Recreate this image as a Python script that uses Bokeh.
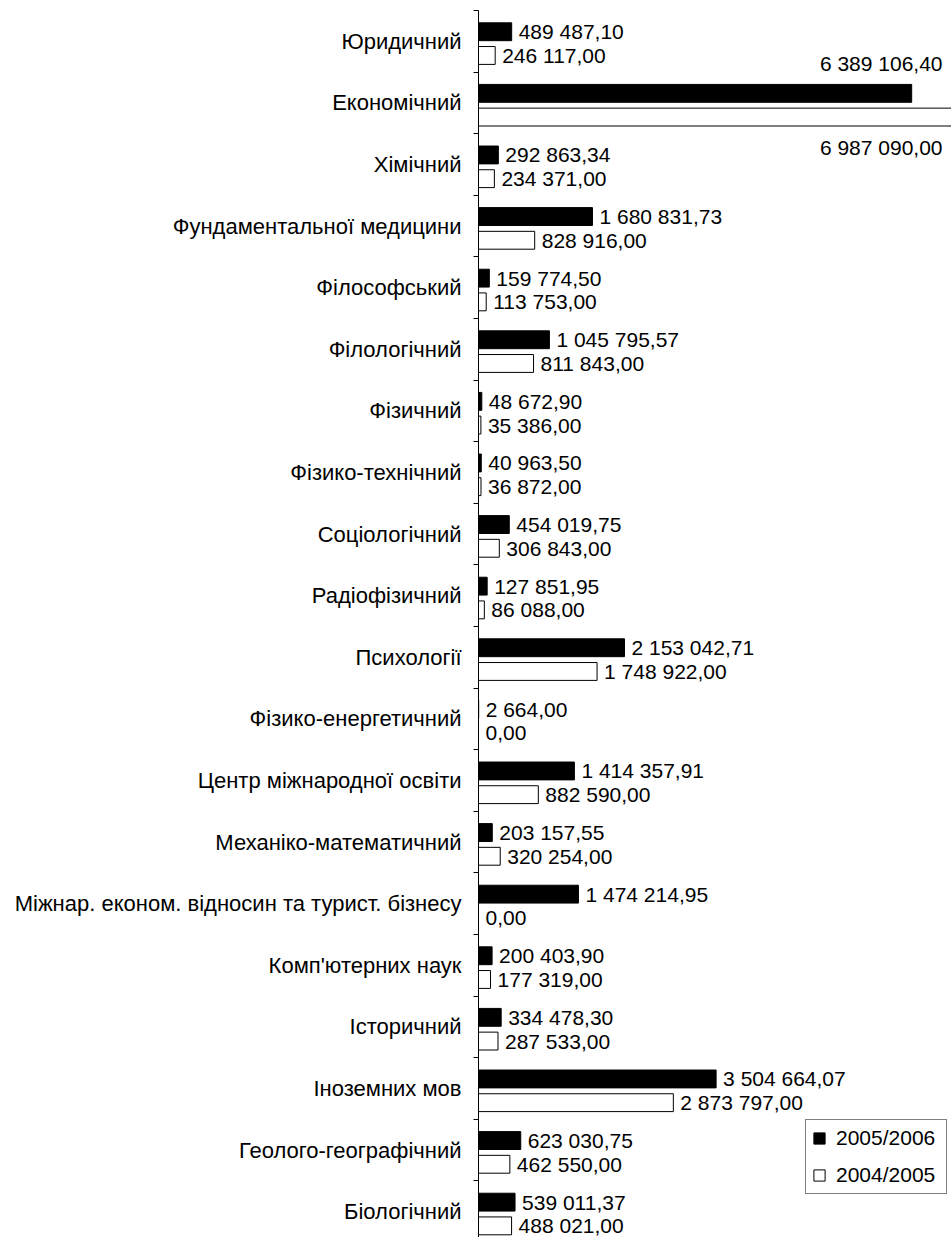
from bokeh.plotting import figure
from bokeh.models import Range1d, FixedTicker, ColumnDataSource, Legend, LegendItem
from bokeh.core.properties import value
from bokeh.embed import file_html
from bokeh.resources import INLINE

categories = [
    "Юридичний",
    "Економічний",
    "Хімічний",
    "Фундаментальної медицини",
    "Філософський",
    "Філологічний",
    "Фізичний",
    "Фізико-технічний",
    "Соціологічний",
    "Радіофізичний",
    "Психології",
    "Фізико-енергетичний",
    "Центр міжнародної освіти",
    "Механіко-математичний",
    "Міжнар. економ. відносин та турист. бізнесу",
    "Комп'ютерних наук",
    "Історичний",
    "Іноземних мов",
    "Геолого-географічний",
    "Біологічний",
]
values_2005_2006 = [
    489487.10, 6389106.40, 292863.34, 1680831.73, 159774.50, 1045795.57,
    48672.90, 40963.50, 454019.75, 127851.95, 2153042.71, 2664.00,
    1414357.91, 203157.55, 1474214.95, 200403.90, 334478.30, 3504664.07,
    623030.75, 539011.37,
]
values_2004_2005 = [
    246117.00, 6987090.00, 234371.00, 828916.00, 113753.00, 811843.00,
    35386.00, 36872.00, 306843.00, 86088.00, 1748922.00, 0.00,
    882590.00, 320254.00, 0.00, 177319.00, 287533.00, 2873797.00,
    462550.00, 488021.00,
]
series_names = ["2005/2006", "2004/2005"]

FONT = "Liberation Sans"
W, H = 951, 1237
LEFT = 478
TOP_GAP = 10
band_px = 61.6
px_per_value = 67.8e-6
n = len(categories)

x_end = (W - LEFT) / px_per_value
y_end = n - 1 + 0.5
y_start = y_end - (H - TOP_GAP) / band_px


def fmt(v):
    return f"{v:,.2f}".replace(",", " ").replace(".", ",")


centers = [n - 1 - i for i in range(n)]
bounds = [c + 0.5 for c in centers] + [centers[-1] - 0.5]

p = figure(width=W, height=H, output_backend="svg", toolbar_location=None,
           x_range=Range1d(0, x_end), y_range=Range1d(y_start, y_end),
           x_axis_location=None,
           min_border_left=LEFT, min_border_right=0, min_border_top=TOP_GAP,
           min_border_bottom=0)
p.outline_line_color = None
p.grid.visible = False
p.background_fill_color = "white"
p.border_fill_color = "white"

bar_h = 0.29
off_black = 0.155
off_white = -0.23

src_b = ColumnDataSource(dict(y=[c + off_black for c in centers], right=values_2005_2006))
src_w = ColumnDataSource(dict(y=[c + off_white for c in centers], right=values_2004_2005))

r_b = p.hbar(y="y", left=0, right="right", height=bar_h, source=src_b,
             fill_color="black", line_color="black", line_width=1)
r_w = p.hbar(y="y", left=0, right="right", height=bar_h, source=src_w,
             fill_color="white", line_color="black", line_width=1)

# value labels
VAL_SIZE = 21
char_px = 0.556 * VAL_SIZE
for vals, off, above in ((values_2005_2006, off_black, True), (values_2004_2005, off_white, False)):
    nx, ny, nt = [], [], []
    ox, oy, ot = [], [], []
    for c, v in zip(centers, vals):
        t = fmt(v)
        end_px = v * px_per_value + 7 + len(t) * char_px
        if end_px > (W - LEFT):
            ox.append(x_end); oy.append(c + off); ot.append(t)
        else:
            nx.append(v); ny.append(c + off); nt.append(t)
    p.text(x=nx, y=ny, text=nt, x_offset=7, text_align="left", text_baseline="middle",
           text_font=value(FONT), text_font_size=f"{VAL_SIZE}px", text_color="black")
    if ox:
        p.text(x=ox, y=oy, text=ot, x_offset=-9, y_offset=(-30 if above else 30),
               text_align="right", text_baseline="middle",
               text_font=value(FONT), text_font_size=f"{VAL_SIZE}px", text_color="black")

ax = p.yaxis[0]
ax.ticker = FixedTicker(ticks=centers, minor_ticks=bounds)
ax.major_label_overrides = {c: name for c, name in zip(centers, categories)}
ax.axis_line_color = "black"
ax.axis_line_width = 1
ax.major_tick_in = 0
ax.major_tick_out = 0
ax.minor_tick_in = 0
ax.minor_tick_out = 5
ax.minor_tick_line_color = "black"
ax.major_label_standoff = 12
ax.major_label_text_font = FONT
ax.major_label_text_font_size = "22px"
ax.major_label_text_color = "black"

legend = Legend(items=[LegendItem(label=series_names[0], renderers=[r_b]),
                       LegendItem(label=series_names[1], renderers=[r_w])],
                location=(327, 43))
legend.glyph_width = 14
legend.glyph_height = 14
legend.label_standoff = 10
legend.label_width = 104
legend.label_height = 24
legend.spacing = 13
legend.padding = 6
legend.margin = 0
legend.border_line_color = "black"
legend.border_line_width = 1
legend.background_fill_color = "white"
legend.background_fill_alpha = 1
legend.label_text_font = FONT
legend.label_text_font_size = "21px"
legend.label_text_color = "black"
p.add_layout(legend)

open("out.html", "w").write(file_html(p, INLINE))
